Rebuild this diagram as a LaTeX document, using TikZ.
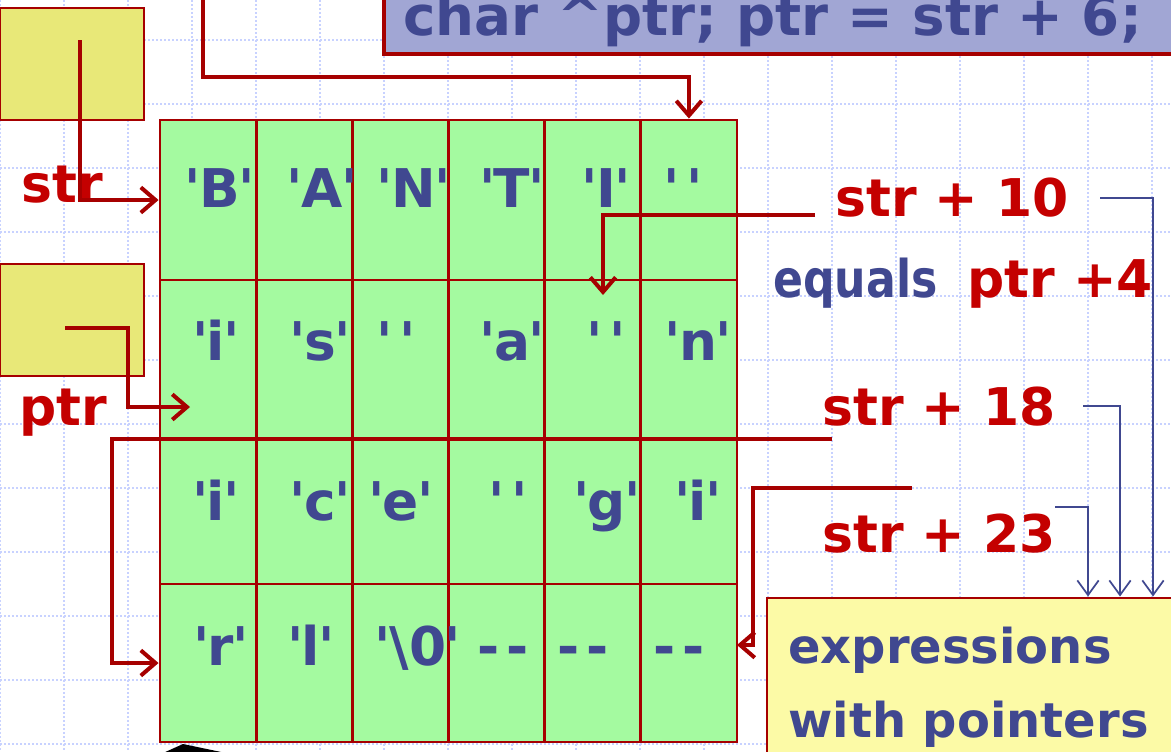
\documentclass[tikz,border=0pt]{standalone}
\usepackage{fontspec}
\newfontfamily\cf{DejaVu Sans}
\usetikzlibrary{arrows.meta,calc}
\definecolor{lred}{RGB}{166,0,0}
\definecolor{tred}{RGB}{196,0,0}
\definecolor{tblue}{RGB}{64,72,144}
\definecolor{cgreen}{RGB}{164,250,160}
\definecolor{ybox}{RGB}{232,232,120}
\definecolor{ylight}{RGB}{252,250,166}
\definecolor{pblue}{RGB}{161,166,212}
\definecolor{gridc}{RGB}{200,210,255}
\newcommand\qq[1]{'\kern-0.03em#1\kern-0.03em'}
\newcommand\blankq{'\kern0.12em'}
\begin{document}
\begin{tikzpicture}[x=0.75pt,y=-0.75pt,
  gridline/.style={draw=gridc, line width=1.6pt, dash pattern=on 1.5pt off 1.5pt},
  cell/.style={draw=lred, line width=2.2pt, fill=cgreen, inner sep=0, minimum width=96.17*0.75pt},
  box/.style={draw=lred, line width=2.2pt, inner sep=0},
  chr/.style={text=tblue, font=\cf\bfseries\fontsize{40}{48}\selectfont, anchor=base, inner sep=0},
  lab/.style={text=tred, font=\cf\bfseries\fontsize{39}{46}\selectfont, anchor=base west, inner sep=0},
  redarrow/.style={draw=lred, line width=3pt, -{Straight Barb[length=11pt,width=19pt]}},
  bluearrow/.style={draw=tblue, line width=1.3pt, -{Straight Barb[length=11pt,width=16pt]}}]
\useasboundingbox (0,0) rectangle (1171,751);
\clip (0,0) rectangle (1171,751);
% background grid
\foreach \x in {0,64,...,1152} \draw[gridline] (\x,0) -- (\x,751);
\foreach \y in {40,104,...,744} \draw[gridline] (0,\y) -- (1171,\y);
% boxes
\node[box, fill=ybox, minimum width=144*0.75pt, minimum height=112*0.75pt] (strbox) at (72,64) {};
\node[box, fill=ybox, minimum width=144*0.75pt, minimum height=112*0.75pt] (ptrbox) at (72,320) {};
\node[box, fill=pblue, line width=3pt, minimum width=801*0.75pt, minimum height=74*0.75pt] (codebox) at (784.5,17) {};
\node[box, fill=ylight, minimum width=418*0.75pt, minimum height=172*0.75pt] (exprbox) at (976,684) {};
% memory cells
\foreach \r/\ya/\yb in {1/120/280,2/280/439,3/439/584,4/584/742}{
  \foreach \c in {1,...,6}{
    \node[cell, minimum height={(\yb-\ya)*0.75pt}] (c\r\c) at ({160+(\c-0.5)*96.17},{(\ya+\yb)/2}) {};
  }}
% cell contents
\node[chr] (t11) at (220,207) {\qq{B}};
\node[chr] (t12) at (322,207) {\qq{A}};
\node[chr] (t13) at (414,207) {\qq{N}};
\node[chr] (t14) at (512,207) {\qq{T}};
\node[chr] (t15) at (606,207) {\qq{I}};
\node[chr] (t16) at (683,207) {\blankq};
\node[chr] (t21) at (216,360) {\qq{i}};
\node[chr] (t22) at (320,360) {\qq{s}};
\node[chr] (t23) at (396,360) {\blankq};
\node[chr] (t24) at (512,360) {\qq{a}};
\node[chr] (t25) at (606,360) {\blankq};
\node[chr] (t26) at (698,360) {\qq{n}};
\node[chr] (t31) at (216,520) {\qq{i}};
\node[chr] (t32) at (320,520) {\qq{c}};
\node[chr] (t33) at (401,520) {\qq{e}};
\node[chr] (t34) at (508,520) {\blankq};
\node[chr] (t35) at (607,520) {\qq{g}};
\node[chr] (t36) at (698,520) {\qq{i}};
\node[chr] (t41) at (221,665) {\qq{r}};
\node[chr] (t42) at (311,665) {\qq{l}};
\node[chr] (t43) at (418,665) {\qq{\textbackslash0}};
\node[chr] (t44) at (503,665) {-\kern0.12em-};
\node[chr] (t45) at (583,665) {-\kern0.12em-};
\node[chr] (t46) at (679,665) {-\kern0.12em-};
% labels
\node[lab, anchor=base] (lstr) at (62,202) {str};
\node[lab, anchor=base] (lptr) at (63,425) {ptr};
\node[lab, text=tblue, font=\cf\bfseries\fontsize{41}{48}\selectfont] (code) at (403,35) {char \textasciicircum ptr; ptr = str + 6;};
\node[lab] (l10) at (835,216) {str + 10};
\node[lab, text=tblue, xscale=0.85] (leq) at (773,297) {equals};
\node[lab] (lp4) at (967,297) {ptr +4};
\node[lab] (l18) at (822,425) {str + 18};
\node[lab] (l23) at (822,552) {str + 23};
\node[lab, text=tblue, font=\cf\bfseries\fontsize{36}{42}\selectfont] (ex1) at (788,663) {expressions};
\node[lab, text=tblue, font=\cf\bfseries\fontsize{36}{42}\selectfont] (ex2) at (788,737) {with pointers};
% red connectors
\coordinate (s0) at (80,40);
\draw[redarrow] (s0) |- (c11.west);
\coordinate (p0) at (65,328);
\coordinate (pb) at (128,328);
\coordinate (p1) at (190,407);
\draw[redarrow] (p0) -- (pb) |- (p1);
\coordinate (t0) at (203,-4);
\coordinate (tb) at (203,77);
\draw[redarrow] (t0) -- (tb) -| (c16.north);
\coordinate (a10) at (815,215);
\coordinate (e10) at (603,295);
\draw[redarrow] (a10) -| (e10);
\coordinate (a18) at (832,439);
\coordinate (b18) at (112,439);
\draw[redarrow] (a18) -- (b18) |- (c41.west);
\coordinate (a23) at (912,488);
\coordinate (b23) at (753,488);
\coordinate (e23) at (737,645);
\draw[redarrow] (a23) -- (b23) |- (e23);
% blue connectors
\coordinate (g10) at (1100,198);
\coordinate (g18) at (1083,406);
\coordinate (g23) at (1055,507);
\draw[bluearrow] (g10) -| (exprbox.north -| 1153,0);
\draw[bluearrow] (g18) -| (exprbox.north -| 1120,0);
\draw[bluearrow] (g23) -| (exprbox.north -| 1088,0);
% partial black shape at the bottom edge
\fill[black] (163,753) -- (183,744) -- (226,753) -- cycle;
\end{tikzpicture}
\end{document}
